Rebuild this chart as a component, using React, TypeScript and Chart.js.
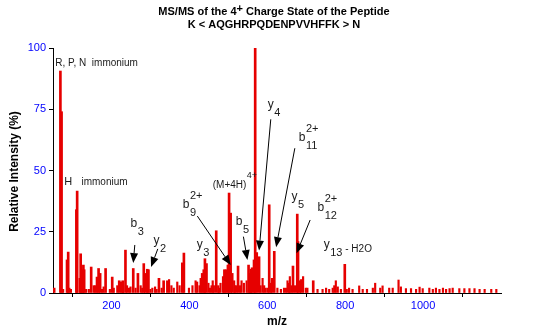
import React, { useEffect, useRef } from "react";
import { Chart, registerables } from "chart.js";

Chart.register(...registerables);

const FONT = '"Liberation Sans", Arial, Helvetica, sans-serif';

// Major labelled peaks (m/z, relative intensity %)
const mainMz = [
  53, 69, 72, 86, 89,
  110, 112, 119, 121, 125,
  128, 130, 148, 155, 163,
  167, 171, 185, 202, 220,
  225, 229, 236, 256, 268,
  283, 287, 292, 295, 322,
  334, 382, 386, 433, 437,
  440, 444, 469, 487, 490,
  494, 499, 502, 506, 510,
  525, 552, 555, 558, 561,
  566, 569, 573, 579, 605,
  618, 666, 677, 679, 718,
  799,
];
const mainIntensity = [
  2, 90.6, 74, 13.5, 16.7,
  34, 41.6, 6, 16, 9.5,
  11.4, 9.5, 10.6, 3, 6.5,
  10, 8, 10, 6.5, 5,
  4.5, 5, 17.5, 10, 8,
  12, 8, 9.7, 9.5, 6,
  5, 12.3, 16.3, 8, 9.5,
  14, 12, 25.4, 6.7, 9.5,
  9.5, 11.4, 40.8, 32.6, 8,
  11, 11.4, 8, 9.7, 10.3,
  13.5, 100, 16.5, 14.8, 36,
  17, 11, 32.2, 21, 5,
  11.7,
];

// Minor / noise-level peaks
const minorMz = [
  76, 92, 96, 135, 142,
  159, 176, 180, 196, 206,
  215, 230, 240, 245, 249,
  262, 275, 279, 300, 305,
  312, 316, 329, 343, 348,
  354, 360, 369, 375, 399,
  408, 416, 420, 426, 429,
  449, 453, 457, 460, 463,
  474, 476, 480, 515, 517,
  521, 530, 534, 540, 547,
  583, 588, 592, 596, 601,
  609, 612, 626, 635, 643,
  648, 652, 656, 658, 662,
  671, 684, 687, 692, 699,
  703, 729, 742, 751, 759,
  768, 772, 776, 781, 789,
  804, 810, 819, 836, 845,
  856, 871, 877, 890, 896,
  913, 922, 937, 943, 956,
  969, 982, 991, 999, 1016,
  1025, 1033, 1042, 1051, 1059,
  1068, 1076, 1093, 1106, 1119,
  1132, 1145, 1158, 1175, 1188,
];
const minorIntensity = [
  1.5, 2, 1.5, 1.5, 1.5,
  3, 1.5, 2.5, 1.5, 2,
  3, 3, 3, 2, 2.5,
  2, 3, 2, 1.5, 2,
  2.5, 1.5, 2, 5, 5.5,
  3, 2, 4.5, 3, 2,
  3, 5, 4.5, 3, 6,
  4, 2, 3, 5, 3,
  3, 2, 4, 5, 3,
  3, 3, 5, 4, 5,
  3, 6, 3, 2, 2,
  4, 6, 2, 1.5, 2,
  2, 5, 4, 6.7, 3,
  3, 5, 5.5, 6.7, 2,
  2, 1.5, 1.5, 2, 1.5,
  2, 3, 5, 2.5, 1.5,
  1.5, 2, 1.5, 2.9, 1.5,
  1.5, 2, 4, 2, 2.9,
  2, 2, 5.3, 2.5, 1.8,
  1.8, 1.5, 2.4, 1.8, 2,
  1.5, 2, 1.5, 2, 1.5,
  1.8, 2, 1.8, 1.8, 1.8,
  1.8, 1.5, 1.5, 1.5, 1.5,
];

const xTicks = [200, 400, 600, 800, 1000];
const yTicks = [0, 25, 50, 75, 100];

const titleLine1 = ["MS/MS of the 4", "+", " Charge State of the Peptide"];
const titleLine2 = "K < AQGHRPQDENPVVHFFK > N";
const xTitle = "m/z";
const yTitle = "Relative Intensity (%)";

// Peak annotations: text, subscript, superscript, tail, anchor (m/z, %), size
const labels = [
  { text: "R, P, N  immonium", mz: 56, pct: 93.9, size: 10 },
  { text: "H", mz: 79, pct: 45.3, size: 11 },
  { text: "immonium", mz: 123, pct: 45.3, size: 10 },
  { text: "b", sub: "3", mz: 249, pct: 28.2, size: 12 },
  { text: "y", sub: "2", mz: 308, pct: 21.2, size: 12 },
  { text: "y", sub: "3", mz: 419, pct: 19.6, size: 12 },
  { text: "b", sub: "9", sup: "2+", mz: 383, pct: 35.9, size: 12 },
  { text: "(M+4H)", sup: "4+", mz: 460, pct: 44.1, size: 10 },
  { text: "b", sub: "5", mz: 519, pct: 29.0, size: 12 },
  { text: "y", sub: "4", mz: 601, pct: 76.7, size: 12 },
  { text: "b", sub: "11", sup: "2+", mz: 681, pct: 63.3, size: 12 },
  { text: "y", sub: "5", mz: 662, pct: 39.2, size: 12 },
  { text: "b", sub: "12", sup: "2+", mz: 729, pct: 34.7, size: 12 },
  { text: "y", sub: "13", tail: " - H2O", mz: 745, pct: 19.6, size: 12 },
];

// Arrows: from (m/z, %) to (m/z, %)
const arrowFromMz = [260, 319, 420.5, 538.8, 609, 670.8, 710.1];
const arrowFromPct = [19.6, 18.0, 31.4, 23.0, 70.9, 59.1, 29.8];
const arrowToMz = [255.9, 301.7, 506.2, 549.1, 579, 622.7, 675.2];
const arrowToPct = [12.2, 10.6, 11.4, 13.5, 17.3, 18.7, 16.2];

const decorPlugin = {
  id: "decor",
  afterDraw(chart: any) {
    const ctx = chart.ctx;
    const xs = chart.scales.x;
    const ys = chart.scales.y;
    const area = chart.chartArea;
    ctx.save();

    // Title
    ctx.fillStyle = "#000";
    ctx.textBaseline = "middle";
    ctx.textAlign = "left";
    ctx.font = `bold 11px ${FONT}`;
    const w0 = ctx.measureText(titleLine1[0]).width;
    const w1 = ctx.measureText(titleLine1[1]).width;
    const w2 = ctx.measureText(titleLine1[2]).width;
    const cx = 274;
    const sx = cx - (w0 + w1 + w2) / 2;
    ctx.fillText(titleLine1[0], sx, 12);
    ctx.fillText(titleLine1[1], sx + w0, 9);
    ctx.fillText(titleLine1[2], sx + w0 + w1, 12);
    ctx.textAlign = "center";
    ctx.fillText(titleLine2, cx, 25);

    // Axis titles
    ctx.font = `bold 12px ${FONT}`;
    ctx.fillText(xTitle, (area.left + area.right) / 2, 322);
    ctx.save();
    ctx.translate(15, (area.top + area.bottom) / 2 + 1);
    ctx.rotate(-Math.PI / 2);
    ctx.fillText(yTitle, 0, 0);
    ctx.restore();

    // Labels
    ctx.fillStyle = "#1a1a1a";
    ctx.textAlign = "left";
    for (const l of labels as any[]) {
      const x = xs.getPixelForValue(l.mz);
      const y = ys.getPixelForValue(l.pct);
      ctx.font = `${l.size}px ${FONT}`;
      ctx.fillText(l.text, x, y);
      const w = ctx.measureText(l.text).width;
      ctx.font = `${l.size - 1}px ${FONT}`;
      let subW = 0;
      if (l.sub) {
        ctx.fillText(l.sub, x + w + 0.5, y + 8);
        subW = ctx.measureText(l.sub).width;
      }
      if (l.sup) ctx.fillText(l.sup, x + w + 0.5, y - 9);
      if (l.tail) {
        ctx.font = `10px ${FONT}`;
        ctx.fillText(l.tail, x + w + 0.5 + subW, y + 4);
      }
    }

    // Arrows
    ctx.strokeStyle = "#000";
    ctx.fillStyle = "#000";
    ctx.lineWidth = 1;
    for (let i = 0; i < arrowFromMz.length; i++) {
      const x1 = xs.getPixelForValue(arrowFromMz[i]);
      const y1 = ys.getPixelForValue(arrowFromPct[i]);
      const x2 = xs.getPixelForValue(arrowToMz[i]);
      const y2 = ys.getPixelForValue(arrowToPct[i]);
      const ang = Math.atan2(y2 - y1, x2 - x1);
      const hl = 10;
      const hw = 4;
      const bx = x2 - hl * Math.cos(ang);
      const by = y2 - hl * Math.sin(ang);
      ctx.beginPath();
      ctx.moveTo(x1, y1);
      ctx.lineTo(bx, by);
      ctx.stroke();
      ctx.beginPath();
      ctx.moveTo(x2, y2);
      ctx.lineTo(bx + hw * Math.sin(ang), by - hw * Math.cos(ang));
      ctx.lineTo(bx - hw * Math.sin(ang), by + hw * Math.cos(ang));
      ctx.closePath();
      ctx.fill();
    }
    ctx.restore();
  },
};

export default function App() {
  const ref = useRef<HTMLCanvasElement>(null);
  useEffect(() => {
    if (!ref.current) return;
    const red = "rgb(230,0,0)";
    const chart = new Chart(ref.current, {
      type: "bar",
      data: {
        datasets: [
          {
            data: minorMz.map((m, i) => ({ x: m, y: minorIntensity[i] })),
            backgroundColor: red,
            barThickness: 1.5,
            grouped: false,
          } as any,
          {
            data: mainMz.map((m, i) => ({ x: m, y: mainIntensity[i] })),
            backgroundColor: red,
            barThickness: 2,
            grouped: false,
          } as any,
        ],
      },
      options: {
        responsive: false,
        animation: false,
        devicePixelRatio: 1,
        layout: { padding: { top: 48, right: 36, left: 0, bottom: 0 } },
        plugins: {
          legend: { display: false },
          tooltip: { enabled: false },
          title: { display: false },
        },
        scales: {
          x: {
            type: "linear",
            min: 50,
            max: 1200,
            offset: false,
            grid: { drawOnChartArea: false, color: "#000", tickLength: 4 },
            border: { display: true, color: "#000", width: 1 },
            ticks: {
              color: "#0000ff",
              font: { family: FONT, size: 11 },
              padding: 2,
              maxRotation: 0,
              callback: (v: any) => String(v),
            },
            afterBuildTicks: (s: any) => {
              s.ticks = xTicks.map((v) => ({ value: v }));
            },
            afterFit: (s: any) => {
              s.height = 39;
            },
          },
          y: {
            min: 0,
            max: 100,
            grid: { drawOnChartArea: false, color: "#000", tickLength: 4 },
            border: { display: true, color: "#000", width: 1 },
            ticks: {
              color: "#0000ff",
              font: { family: FONT, size: 11 },
              padding: 3,
              callback: (v: any) => String(v),
            },
            afterBuildTicks: (s: any) => {
              s.ticks = yTicks.map((v) => ({ value: v }));
            },
            afterFit: (s: any) => {
              s.width = 53;
            },
          },
        },
      } as any,
      plugins: [decorPlugin],
    });
    return () => chart.destroy();
  }, []);
  return (
    <div style={{ position: "fixed", left: 0, top: 0, width: 537, height: 332, background: "#fff" }}>
      <canvas ref={ref} width={537} height={332} style={{ display: "block" }} />
    </div>
  );
}
